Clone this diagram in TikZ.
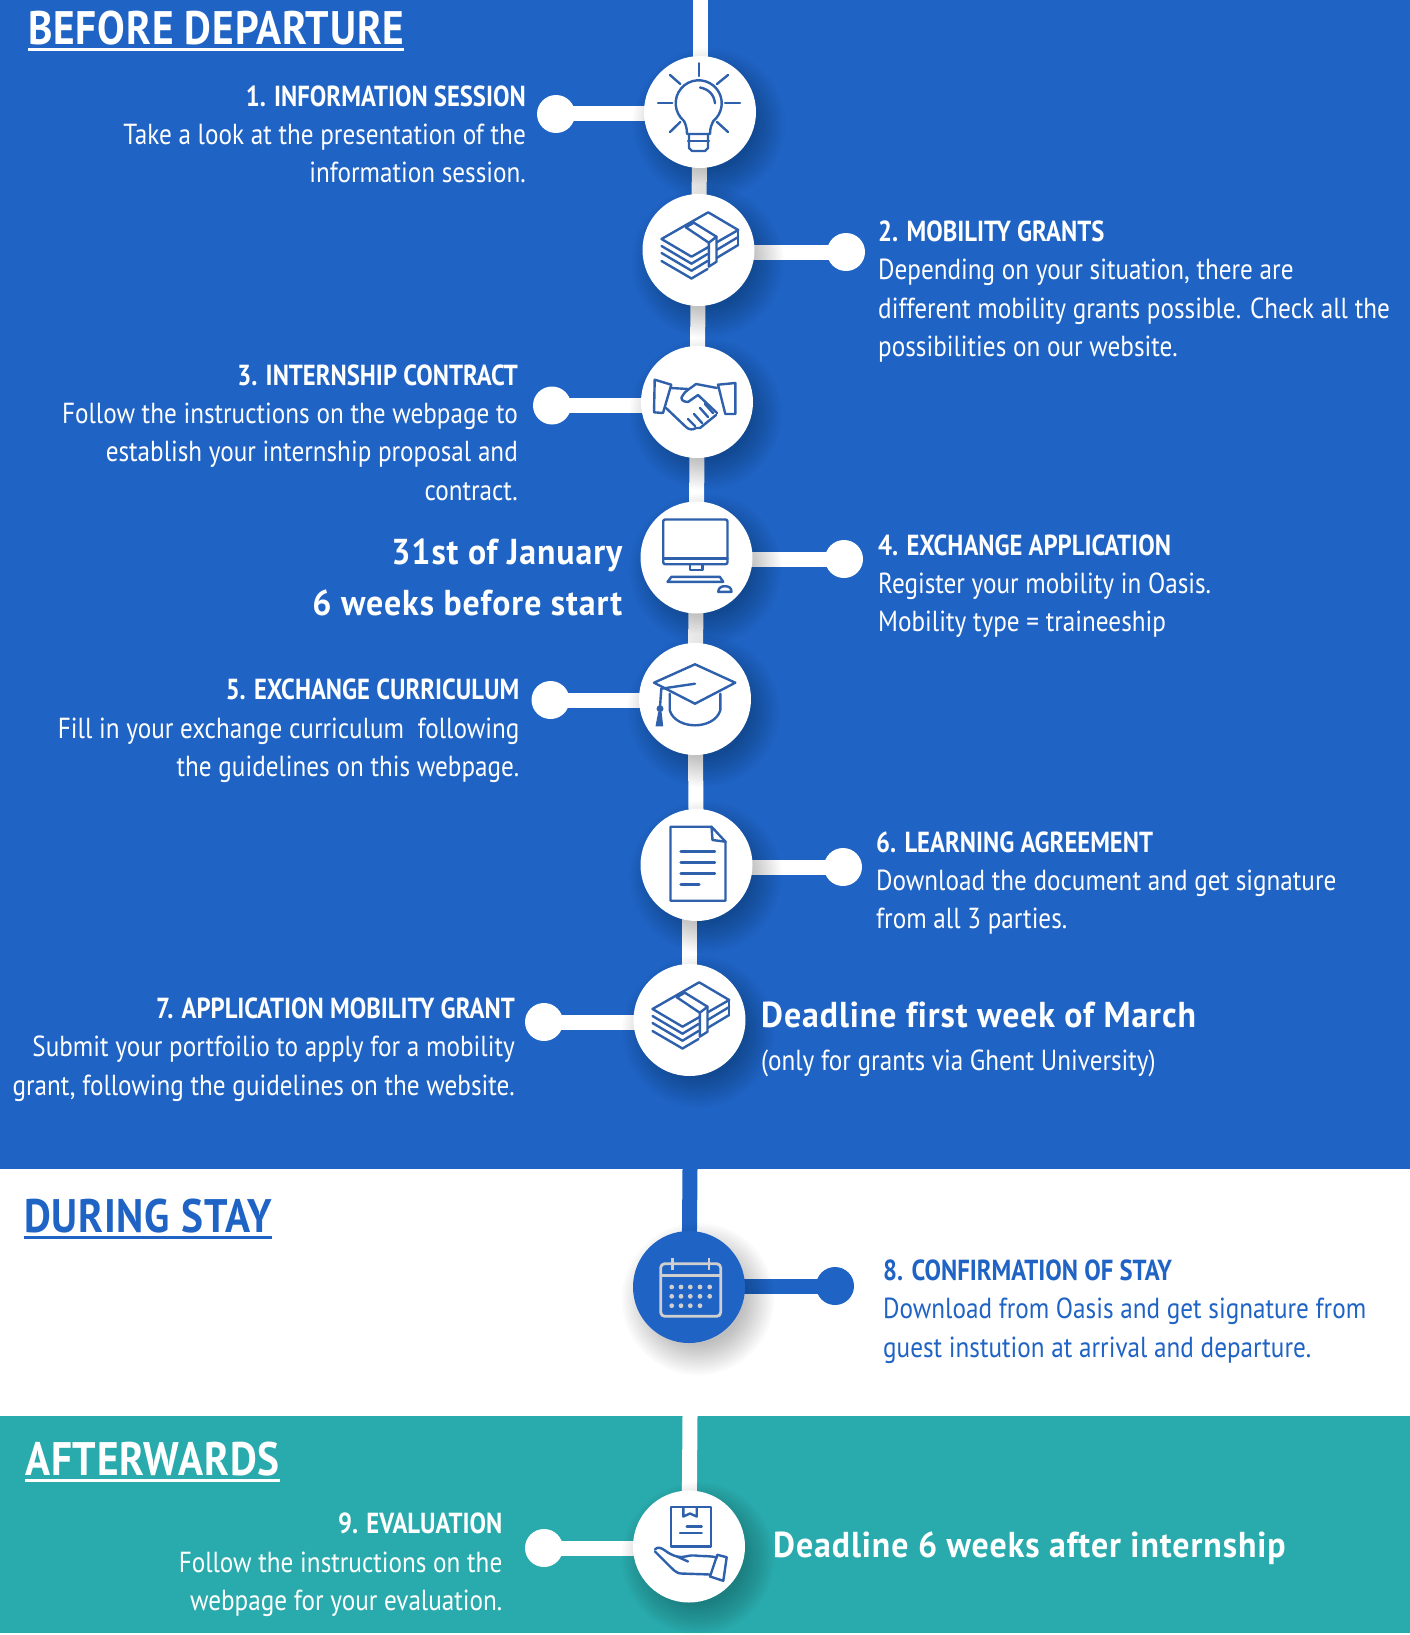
\documentclass[tikz,border=0pt]{standalone}
\usepackage{fontspec}
\setmainfont[FakeStretch=0.868,BoldFeatures={FakeStretch=0.85}]{PT Sans}
\newfontfamily\bigfam[FakeStretch=0.94,LetterSpace=2.6,Ligatures=NoCommon]{PT Sans}
\newfontfamily\headfam[FakeStretch=0.88,LetterSpace=1.8,Ligatures=NoCommon]{PT Sans}
\pgfdeclarelayer{bands}\pgfdeclarelayer{lines}\pgfdeclarelayer{shade}
\pgfsetlayers{bands,lines,shade,main}
\definecolor{uBlue}{HTML}{1F63C5}
\definecolor{uTeal}{HTML}{29ABAD}
\definecolor{iconBlue}{HTML}{2F60AC}
\definecolor{calGrey}{HTML}{CFCFCF}
\newcommand\hdr[1]{\setbox0\hbox{#1}\leavevmode\rlap{\rule[-7pt]{\wd0}{2.8pt}}\box0}
\newcommand\softshadow[1]{\begin{pgfonlayer}{shade}
  \foreach \r in {46,48.5,...,76}{\fill[black,fill opacity=.018] ([shift={(9,12)}]#1.center) circle[radius=\r];}
\end{pgfonlayer}}
\tikzset{
 x=1pt,y=-1pt,
 stop/.style={circle,fill=white,minimum size=112pt,inner sep=0pt},
 stopB/.style={stop,fill=uBlue},
 knob/.style={circle,fill=white,minimum size=38pt,inner sep=0pt},
 knobB/.style={knob,fill=uBlue},
 trunk/.style={line width=15pt,white},
 trunkB/.style={line width=15pt,uBlue},
 body/.style={font=\fontsize{29}{38.3}\selectfont,white,inner sep=0pt},
 bodyR/.style={body,anchor=east,align=right},
 bodyL/.style={body,anchor=west,align=left},
 big/.style={font=\fontsize{36}{51}\selectfont\bigfam\bfseries,white,inner sep=0pt},
 head/.style={font=\fontsize{47}{50}\selectfont\headfam\bfseries,inner sep=0pt,anchor=west},
 icon/.style={iconBlue,line width=2.4pt,line join=round,line cap=round},
 pics/money/.style={code={
  \begin{scope}[icon]
   \draw (-37,-11)--(9.7,-37.7)--(39.7,-20)--(-7,6.7)--cycle;
   \draw (-37,-4)--(-7,13.7); \draw (-37,3)--(-7,20.7); \draw (-37,11)--(-7,28.5);
   \draw (-7,13.7)--(9,4); \draw (-7,20.7)--(9,11); \draw (-7,28.5)--(9,19);
   \draw (39.7,-13)--(18,0); \draw (39.7,-5)--(18,8);
   \draw (39.7,-20)--(39.7,-5);
   \draw[fill=white] (-12.7,-22.7)--(10.3,-7.3)--(10.3,16.7)--(18,11.7)--(18,-13.3)--(-4.7,-27.3)--cycle;
   \draw (10.3,-7.3)--(18,-13.3);
  \end{scope}}},
 pics/bulb/.style={code={
  \begin{scope}[icon]
   \draw (-1.3,-48.7)--(-1.3,-36); \draw (-42,-8.7)--(-27.7,-8.7); \draw (25,-8.7)--(40,-8.7);
   \draw (-30,-37)--(-19.7,-28); \draw (28,-37)--(17,-28); \draw (-30,20)--(-19.7,10); \draw (28,20)--(17,10);
   \draw (-13,22) .. controls (-13,15) and (-15,11) .. (-16.1,8.9) arc[start angle=130,end angle=410,radius=23] .. controls (12,12) and (10,15) .. (10,22)--cycle;
   \draw (-12,29)--(9,29);
   \draw (-11,22)--(-11,36)--(-8,39)--(5,39)--(8,36)--(8,22);
   \draw (0,-24.5) .. controls (8,-23) and (14,-18) .. (15,-8.7);
  \end{scope}}},
 pics/shake/.style={code={
  \begin{scope}[icon]
   \draw (-42.3,-22.3)--(-25.7,-17.3)--(-34,11)--(-43,10.3)--cycle;
   \draw (38.3,-19)--(21,-17.3)--(28.3,12)--(38.3,12)--cycle;
   \draw (-26,-14)--(-9,-13);
   \draw (20,-14)--(-1,-18) .. controls (-6,-14) and (-12,-11) .. (-14,-7) .. controls (-18,-3) and (-14,0) .. (-9,0)--(1,-7)--(20,11);
   \draw (-31,6)--(-11,25) .. controls (-8,28) and (-4,28) .. (-1,26)--(3,26)--(19,13);
   \draw (-9,17)--(-2,24); \draw (-3,12)--(5,21); \draw (3,6)--(11,15); \draw (8,2)--(16,11);
  \end{scope}}},
 pics/screen/.style={code={
  \begin{scope}[icon]
   \draw[rounded corners=2pt] (-33.3,-38) rectangle (31,6.7);
   \draw (-33.3,1)--(31,1);
   \draw (-6.7,6.7)--(-6.7,12.7)--(6,12.7)--(6,6.7);
   \draw (-25,19.3)--(23.3,19.3)--(26.7,24.3)--(-29,24.3)--cycle;
   \draw (21.7,34.3) .. controls (22,30) and (25,28.7) .. (28.3,28.7) .. controls (32,28.7) and (35,30) .. (35,34.3)--cycle;
  \end{scope}}},
 pics/mortar/.style={code={
  \begin{scope}[icon]
   \draw (-41,-16.3)--(0,-34.7)--(40.3,-16.3)--(0,4.7)--cycle;
   \draw (-25.3,-5.3)--(-25.3,11.3) .. controls (-22,22) and (-10,26.3) .. (0,26.3) .. controls (10,26.3) and (22,22) .. (25.3,11.3)--(25.3,-5.3);
   \draw (-33.7,-10.3)--(0,-15.3);
   \draw (-33.7,-10.3)--(-35,8);
   \fill (-35,9.7) circle[radius=3.5];
   \fill (-36.8,13)--(-33.4,13)--(-31.8,27.3)--(-39.5,27.3)--cycle;
  \end{scope}}},
 pics/sheet/.style={code={
  \begin{scope}[icon]
   \draw (-26,-38.3)--(15,-38.3)--(29,-23.3)--(29,35.7)--(-26,35.7)--cycle;
   \draw (15,-38.3)--(16,-25)--(29,-23.3);
   \begin{scope}[line width=2.8pt]
   \draw (-15.7,-13.2)--(18.3,-13.2); \draw (-15.7,-2.2)--(18.3,-2.2);
   \draw (-15.7,8.5)--(18.3,8.5); \draw (-15.7,19.5)--(2.7,19.5);
   \end{scope}
  \end{scope}}},
 pics/calendar/.style={code={
  \begin{scope}[calGrey,line width=2.8pt,line join=round]
   \draw[rounded corners=4pt] (-28.3,-23.3) rectangle (31.7,29.3);
   \draw (-28.3,-11.7)--(31.7,-11.7);
   \draw (-16.7,-29.3)--(-16.7,-17.3); \draw (20,-29.3)--(20,-17.3);
   \foreach \px in {-17.3,-8,1.3,11,20.7}{\fill (\px,0) circle[radius=2.4]; \fill (\px,9.3) circle[radius=2.4];}
   \foreach \px in {-17.3,-8,1.3,11}{\fill (\px,18.7) circle[radius=2.4];}
  \end{scope}}},
 pics/parcel/.style={code={
  \begin{scope}[icon]
   \draw (-18.3,-39.3) rectangle (22,0);
   \draw (-5.7,-39.3)--(-5.7,-30)--(1,-33)--(7.7,-30)--(7.7,-39.3);
   \draw (-2.3,-20)--(12.7,-20); \draw (-9,-13.3)--(12.7,-13.3);
   \draw (28.3,8.3)--(37.7,10.7)--(34.3,34.3)--(21,30)--cycle;
   \draw (-34,3) .. controls (-32,0) and (-28,1) .. (-24,4) .. controls (-20,7) and (-16,9) .. (-12,10) .. controls (-6,12) and (0,8) .. (6,9) .. controls (14,10) and (20,9) .. (28,11);
   \draw (-12,10)--(-1,15);
   \draw (-34,5)--(-18,21) .. controls (-14,25) and (-11,27) .. (-8,27)--(21,28);
  \end{scope}}}
}
\begin{document}
\begin{tikzpicture}
\useasboundingbox (0,0) rectangle (1410,1635);
\begin{pgfonlayer}{bands}
 \fill[white] (0,0) rectangle (1410,1635);
 \fill[uBlue] (0,0) rectangle (1410,1169);
 \fill[uTeal] (0,1416) rectangle (1410,1633);
\end{pgfonlayer}

% stops
\node[stop]  (c1) at (700,112) {};
\node[stop]  (c2) at (698.5,250) {};
\node[stop]  (c3) at (697,402) {};
\node[stop]  (c4) at (696.5,557.5) {};
\node[stop]  (c5) at (695,699) {};
\node[stop]  (c6) at (696.5,865) {};
\node[stop]  (c7) at (689.5,1020) {};
\node[stopB] (c8) at (689,1287) {};
\node[stop]  (c9) at (689,1546.5) {};
% knobs
\node[knob]  (d1) at (556,114) {};
\node[knob]  (d2) at (846,252) {};
\node[knob]  (d3) at (552,405.5) {};
\node[knob]  (d4) at (844,559) {};
\node[knob]  (d5) at (550.5,700) {};
\node[knob]  (d6) at (843,867) {};
\node[knob]  (d7) at (544,1022) {};
\node[knobB] (d8) at (835,1286) {};
\node[knob]  (d9) at (544,1548) {};
% free ends of the trunk
\coordinate (top) at (700,0);
\coordinate (mid) at (690,1169);
\coordinate (low) at (690,1416);

\begin{pgfonlayer}{lines}
 \draw[trunk] (top)--(c1.center);
 \draw[trunk] (c1.center)--(c2.center);
 \draw[trunk] (c2.center)--(c3.center);
 \draw[trunk] (c3.center)--(c4.center);
 \draw[trunk] (c4.center)--(c5.center);
 \draw[trunk] (c5.center)--(c6.center);
 \draw[trunk] (c6.center -| c7.center)--(c7.center);
 \draw[trunkB] (mid)--(c8.center);
 \draw[trunk] (low)--(c9.center);
 \foreach \i in {1,2,3,4,5,6,7,9}{\draw[trunk] (d\i.center)--(c\i.center |- d\i.center);}
 \draw[trunkB] (d8.center)--(c8.center |- d8.center);
\end{pgfonlayer}
\foreach \i in {1,...,9}{\softshadow{c\i}}

% icons
\pic at (c1) {bulb};
\pic at (c2) {money};
\pic at (c3) {shake};
\pic at (c4) {screen};
\pic at (c5) {mortar};
\pic at (c6) {sheet};
\pic at (c7) {money};
\pic at (c8) {calendar};
\pic at (c9) {parcel};

% headings
\node[head,white] (h1) at (28,31) {\hdr{BEFORE DEPARTURE}};
\node[head,uBlue] (h2) at (24,1219) {\hdr{DURING STAY}};
\node[head,white] (h3) at (25,1462) {\hdr{AFTERWARDS}};

% texts
\node[bodyR] (t1) at (526,134.5) {\textbf{1. INFORMATION SESSION}\\Take a look at the presentation of the\\information session.};
\node[bodyL] (t2) at (878,291.5) {\textbf{2. MOBILITY GRANTS}\\Depending on your situation, there are\\different mobility grants possible. Check all the\\possibilities on our website.};
\node[bodyR] (t3) at (518,432.5) {\textbf{3. INTERNSHIP CONTRACT}\\Follow the instructions on the webpage to\\establish your internship proposal and\\contract.};
\node[big,anchor=east,align=right] (t4b) at (622.5,577) {31st of January\\6 weeks before start};
\node[bodyL] (t4) at (878,586) {\textbf{4. EXCHANGE APPLICATION}\\Register your mobility in Oasis.\\Mobility type = traineeship};
\node[bodyR] (t5) at (519.5,731) {\textbf{5. EXCHANGE CURRICULUM}\\Fill in your exchange curriculum\ \ following\\the guidelines on this webpage.};
\node[bodyL] (t6) at (876,883) {\textbf{6. LEARNING AGREEMENT}\\Download the document and get signature\\from all 3 parties.};
\node[bodyR] (t7) at (515,1049.5) {\textbf{7. APPLICATION MOBILITY GRANT}\\Submit your portfoilio to apply for a mobility\\grant, following the guidelines on the website.};
\node[big,anchor=west] (t7b) at (761,1015) {Deadline first week of March};
\node[bodyL] (t7c) at (761,1063.5) {(only for grants via Ghent University)};
\node[bodyL,text=uBlue] (t8) at (883,1311.5) {\textbf{8. CONFIRMATION OF STAY}\\Download from Oasis and get signature from\\guest instution at arrival and departure.};
\node[bodyR] (t9) at (502.5,1565) {\textbf{9. EVALUATION}\\Follow the instructions on the\\webpage for your evaluation.};
\node[big,anchor=west] (t9b) at (773,1548.5) {Deadline 6 weeks after internship};
\end{tikzpicture}
\end{document}
